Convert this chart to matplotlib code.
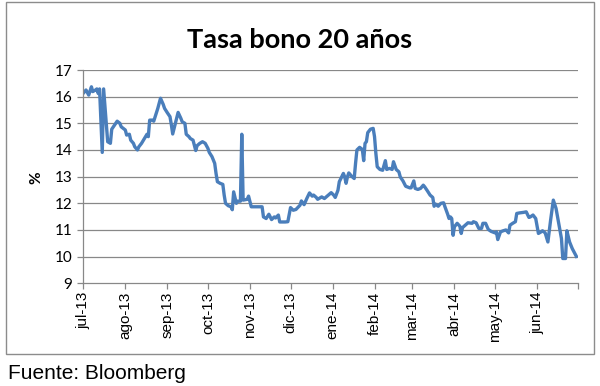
import matplotlib
matplotlib.use("Agg")
import matplotlib.pyplot as plt
import matplotlib.dates as mdates
import matplotlib.patches as patches
import pandas as pd

title = "Tasa bono 20 años"
y_label = "%"
source = "Fuente: Bloomberg"
tick_labels = ["jul-13", "ago-13", "sep-13", "oct-13", "nov-13", "dic-13",
               "ene-14", "feb-14", "mar-14", "abr-14", "may-14", "jun-14", ""]
y_ticks = [9, 10, 11, 12, 13, 14, 15, 16, 17]

dates_jul13 = ["2013-07-01", "2013-07-02", "2013-07-03", "2013-07-05", "2013-07-07", "2013-07-08",
               "2013-07-10", "2013-07-11", "2013-07-12", "2013-07-13", "2013-07-15", "2013-07-16",
               "2013-07-19", "2013-07-21", "2013-07-22", "2013-07-24", "2013-07-26", "2013-07-28",
               "2013-07-29"]
vals_jul13 = [16.13, 16.19, 16.25, 16.06, 16.37, 16.19, 16.25, 16.29, 16.12, 16.29, 13.91, 16.29,
              14.31, 14.25, 14.78, 14.93, 15.08, 15.00, 14.87]

dates_aug13 = ["2013-08-01", "2013-08-02", "2013-08-04", "2013-08-05", "2013-08-07", "2013-08-08",
               "2013-08-10", "2013-08-11", "2013-08-13", "2013-08-16", "2013-08-17", "2013-08-18",
               "2013-08-19", "2013-08-21", "2013-08-22", "2013-08-25", "2013-08-27", "2013-08-29",
               "2013-08-30"]
vals_aug13 = [14.75, 14.56, 14.59, 14.37, 14.25, 14.12, 14.00, 14.12, 14.25, 14.50, 14.59, 14.50,
              15.12, 15.12, 15.08, 15.56, 15.94, 15.71, 15.56]

dates_sep13 = ["2013-09-01", "2013-09-03", "2013-09-04", "2013-09-05", "2013-09-07", "2013-09-08",
               "2013-09-09", "2013-09-11", "2013-09-12", "2013-09-14", "2013-09-15", "2013-09-17",
               "2013-09-18", "2013-09-20", "2013-09-21", "2013-09-22", "2013-09-23", "2013-09-25",
               "2013-09-27", "2013-09-29"]
vals_sep13 = [15.40, 15.25, 14.95, 14.60, 15.00, 15.19, 15.41, 15.19, 15.06, 15.00, 14.59, 14.50,
              14.43, 14.37, 14.18, 13.98, 14.16, 14.25, 14.31, 14.25]

dates_oct13 = ["2013-10-01", "2013-10-02", "2013-10-04", "2013-10-06", "2013-10-07", "2013-10-08",
               "2013-10-10", "2013-10-12", "2013-10-13", "2013-10-14", "2013-10-16", "2013-10-18",
               "2013-10-19", "2013-10-20", "2013-10-22", "2013-10-23", "2013-10-25", "2013-10-26",
               "2013-10-27", "2013-10-30", "2013-10-31"]
vals_oct13 = [14.06, 13.91, 13.75, 13.50, 13.12, 12.81, 12.75, 12.71, 12.31, 12.00, 11.91, 11.87,
              11.76, 12.43, 12.00, 12.08, 12.08, 14.59, 12.12, 12.15, 12.27]

dates_nov13 = ["2013-11-02", "2013-11-07", "2013-11-10", "2013-11-11", "2013-11-13", "2013-11-15",
               "2013-11-17", "2013-11-19", "2013-11-20", "2013-11-22", "2013-11-23", "2013-11-27",
               "2013-11-29"]
vals_nov13 = [11.87, 11.87, 11.87, 11.49, 11.43, 11.59, 11.39, 11.49, 11.45, 11.56, 11.30, 11.30,
              11.31]

dates_dec13 = ["2013-12-01", "2013-12-03", "2013-12-05", "2013-12-08", "2013-12-09", "2013-12-11",
               "2013-12-13", "2013-12-15", "2013-12-17", "2013-12-18", "2013-12-20", "2013-12-21",
               "2013-12-24", "2013-12-26", "2013-12-29", "2013-12-31"]
vals_dec13 = [11.84, 11.74, 11.77, 11.93, 12.09, 11.95, 12.18, 12.39, 12.27, 12.31, 12.22, 12.15,
              12.24, 12.18, 12.31, 12.40]

dates_jan14 = ["2014-01-02", "2014-01-03", "2014-01-05", "2014-01-06", "2014-01-08", "2014-01-09",
               "2014-01-10", "2014-01-11", "2014-01-12", "2014-01-13", "2014-01-15", "2014-01-17",
               "2014-01-18", "2014-01-19", "2014-01-21", "2014-01-23", "2014-01-24", "2014-01-25",
               "2014-01-26", "2014-01-27", "2014-01-29", "2014-01-31"]
vals_jan14 = [12.30, 12.22, 12.49, 12.81, 13.02, 13.12, 12.99, 12.75, 12.99, 13.14, 13.02, 12.93,
              13.50, 14.00, 14.10, 14.02, 13.60, 14.25, 14.31, 14.65, 14.78, 14.81]

dates_feb14 = ["2014-02-01", "2014-02-02", "2014-02-03", "2014-02-05", "2014-02-07", "2014-02-09",
               "2014-02-10", "2014-02-12", "2014-02-14", "2014-02-15", "2014-02-17", "2014-02-19",
               "2014-02-20", "2014-02-22", "2014-02-24", "2014-02-27", "2014-02-28"]
vals_feb14 = [14.50, 13.87, 13.37, 13.27, 13.24, 13.60, 13.27, 13.31, 13.27, 13.56, 13.27, 13.18,
              12.99, 12.84, 12.64, 12.58, 12.58]

dates_mar14 = ["2014-03-02", "2014-03-03", "2014-03-05", "2014-03-07", "2014-03-09", "2014-03-10",
               "2014-03-12", "2014-03-14", "2014-03-16", "2014-03-17", "2014-03-18", "2014-03-20",
               "2014-03-22", "2014-03-24", "2014-03-25", "2014-03-27", "2014-03-28", "2014-03-29",
               "2014-03-30", "2014-03-31"]
vals_mar14 = [12.84, 12.56, 12.52, 12.56, 12.68, 12.62, 12.47, 12.31, 12.22, 11.89, 11.97, 11.89,
              12.00, 12.02, 11.87, 11.59, 11.43, 11.49, 11.43, 10.80]

dates_apr14 = ["2014-04-01", "2014-04-03", "2014-04-05", "2014-04-06", "2014-04-07", "2014-04-09",
               "2014-04-11", "2014-04-14", "2014-04-15", "2014-04-17", "2014-04-19", "2014-04-21",
               "2014-04-22", "2014-04-24", "2014-04-26", "2014-04-28"]
vals_apr14 = [11.12, 11.25, 11.14, 10.87, 11.09, 11.18, 11.27, 11.25, 11.31, 11.27, 11.06, 11.06,
              11.25, 11.25, 11.02, 10.95]

dates_may14 = ["2014-05-01", "2014-05-02", "2014-05-03", "2014-05-05", "2014-05-07", "2014-05-09",
               "2014-05-11", "2014-05-12", "2014-05-14", "2014-05-16", "2014-05-17", "2014-05-19",
               "2014-05-22", "2014-05-24", "2014-05-26", "2014-05-27", "2014-05-29", "2014-05-31"]
vals_may14 = [10.89, 10.93, 10.64, 10.93, 10.97, 11.00, 10.89, 11.18, 11.25, 11.31, 11.62, 11.64,
              11.66, 11.68, 11.47, 11.49, 11.56, 11.43]

dates_jun14 = ["2014-06-02", "2014-06-04", "2014-06-05", "2014-06-07", "2014-06-09", "2014-06-11",
               "2014-06-13", "2014-06-15", "2014-06-17", "2014-06-19", "2014-06-20", "2014-06-22",
               "2014-06-23", "2014-06-25", "2014-06-27", "2014-06-30"]
vals_jun14 = [10.87, 10.93, 10.97, 10.89, 10.55, 11.37, 12.12, 11.81, 11.25, 10.68, 9.93, 9.93,
              10.97, 10.55, 10.30, 10.01]

all_dates = (dates_jul13 + dates_aug13 + dates_sep13 + dates_oct13 + dates_nov13 + dates_dec13 +
             dates_jan14 + dates_feb14 + dates_mar14 + dates_apr14 + dates_may14 + dates_jun14)
all_vals = (vals_jul13 + vals_aug13 + vals_sep13 + vals_oct13 + vals_nov13 + vals_dec13 +
            vals_jan14 + vals_feb14 + vals_mar14 + vals_apr14 + vals_may14 + vals_jun14)
x = pd.to_datetime(all_dates)

W, H = 600, 386
fig = plt.figure(figsize=(6.0, 3.86), dpi=100)
fig.patch.set_facecolor("white")

# outer chart border
fig.patches.append(patches.Rectangle((6 / W, 1 - 354 / H), 588 / W, 352 / H,
                                     transform=fig.transFigure, fill=False,
                                     edgecolor="#8c8c8c", linewidth=1.0))

ax = fig.add_axes([83.3 / W, 1 - 283.3 / H, (577.7 - 83.3) / W, (283.3 - 70) / H])
ax.plot(x, all_vals, color="#4A7EBB", linewidth=2.4, solid_joinstyle="round")

ax.set_ylim(9, 17)
ax.set_xlim(pd.Timestamp("2013-07-01"), pd.Timestamp("2014-07-01"))
ax.set_yticks(y_ticks)
ax.set_yticklabels([str(v) for v in y_ticks], fontfamily="Lato", fontsize=11)
tick_pos = pd.date_range("2013-07-01", "2014-07-01", freq="MS")
ax.set_xticks(tick_pos)
ax.set_xticklabels(tick_labels, rotation=90, fontfamily="Liberation Sans", fontsize=11)

for v in y_ticks[1:]:
    ax.axhline(v, color="#888888", linewidth=0.9, zorder=0)

for side in ["top", "right"]:
    ax.spines[side].set_visible(False)
for side in ["left", "bottom"]:
    ax.spines[side].set_color("#888888")
    ax.spines[side].set_linewidth(0.9)
ax.tick_params(axis="both", color="#888888", length=4, width=0.9, pad=2)
ax.tick_params(axis="y", pad=4)

fig.text(300 / W, 1 - 40 / H, title, ha="center", va="center", fontfamily="Lato",
         fontweight="bold", fontsize=19.5)
fig.text(36 / W, 1 - 178 / H, y_label, ha="center", va="center", rotation=90,
         fontfamily="Lato", fontweight="bold", fontsize=11)
fig.text(8 / W, 1 - 379 / H, source, ha="left", va="baseline",
         fontfamily="Liberation Sans", fontsize=15)

fig.savefig("out.png", dpi=100)
